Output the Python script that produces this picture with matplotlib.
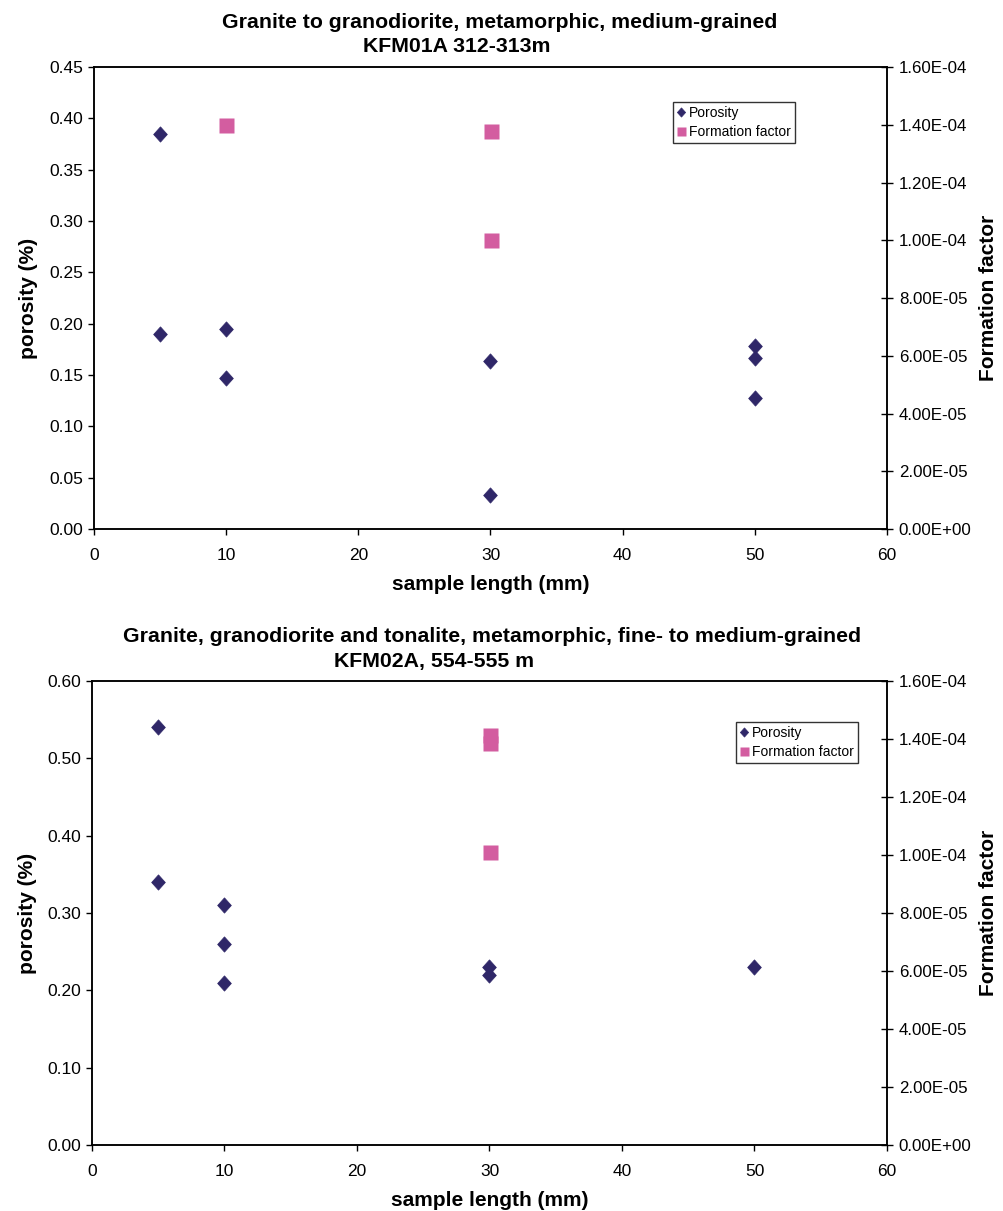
import matplotlib.pyplot as plt
from matplotlib.path import Path
from matplotlib.ticker import FuncFormatter, MultipleLocator

plt.rcParams['font.family'] = ['Liberation Sans', 'DejaVu Sans']

# KFM01A 312-313m
por1_x = [5, 5, 10, 10, 30, 30, 50, 50, 50]
por1_y = [0.385, 0.190, 0.195, 0.147, 0.164, 0.033, 0.178, 0.167, 0.128]
ff1_x = [10, 30, 30]
ff1_y = [1.40e-4, 1.38e-4, 1.00e-4]

# KFM02A, 554-555 m
por2_x = [5, 5, 10, 10, 10, 30, 30, 50]
por2_y = [0.540, 0.340, 0.310, 0.260, 0.210, 0.230, 0.220, 0.230]
ff2_x = [30, 30, 30]
ff2_y = [1.413e-4, 1.387e-4, 1.009e-4]

titles1 = ["Granite to granodiorite, metamorphic, medium-grained", "KFM01A 312-313m"]
titles2 = ["Granite, granodiorite and tonalite, metamorphic, fine- to medium-grained",
           "KFM02A, 554-555 m"]

por_col = '#2F2768'
ff_col = '#D35DA0'

# Excel style diamond, a bit taller than wide
diamond = Path([(0, 1), (0.9, 0), (0, -1), (-0.9, 0), (0, 1)],
               [Path.MOVETO, Path.LINETO, Path.LINETO, Path.LINETO, Path.CLOSEPOLY])

W, H = 1004, 1211
fig = plt.figure(figsize=(W / 100, H / 100), dpi=100)


def make_panel(rect, px, py, fx, fy, ymax, ystep, titles, title_pos, leg_xy):
    ax = fig.add_axes(rect)
    ax2 = ax.twinx()
    h1, = ax.plot(px, py, linestyle='none', marker=diamond, color=por_col, ms=11,
                  mec=por_col, mew=0.5, label='Porosity', zorder=3)
    h2, = ax2.plot(fx, fy, 's', color=ff_col, ms=10.8, mec='none',
                   label='Formation factor', zorder=3)

    ax.set_xlim(0, 60)
    ax.set_ylim(0, ymax)
    ax2.set_ylim(0, 1.6e-4)
    ax.xaxis.set_major_locator(MultipleLocator(10))
    ax.yaxis.set_major_locator(MultipleLocator(ystep))
    ax2.yaxis.set_major_locator(MultipleLocator(2e-5))
    ax.yaxis.set_major_formatter(FuncFormatter(lambda v, p: f"{v:.2f}"))
    ax2.yaxis.set_major_formatter(FuncFormatter(lambda v, p: f"{v:.2E}"))

    ax.tick_params(axis='both', direction='out', length=4.5, width=1, labelsize=12.5)
    ax.tick_params(axis='x', pad=9)
    ax.tick_params(axis='y', pad=3)
    ax2.tick_params(axis='y', direction='inout', length=9, width=1, labelsize=12.2, pad=4)
    for a in (ax, ax2):
        for s in a.spines.values():
            s.set_linewidth(1.1)

    ax.set_xlabel("sample length (mm)", fontsize=15, fontweight='bold', labelpad=9)
    ax.set_ylabel("porosity (%)", fontsize=15, fontweight='bold', labelpad=8)
    ax2.set_ylabel("Formation factor", fontsize=15, fontweight='bold', labelpad=5)

    for txt, (cx, cy) in zip(titles, title_pos):
        fig.text(cx / W, 1 - cy / H, txt, ha='center', va='center',
                 fontsize=15.3, fontweight='bold')

    leg = ax2.legend(handles=[h1, h2], loc='upper left', bbox_to_anchor=leg_xy,
                     borderaxespad=0, fontsize=10, frameon=True, fancybox=False,
                     edgecolor='black', handlelength=0.6, handletextpad=0.25,
                     borderpad=0.3, labelspacing=0.35, markerscale=0.6)
    leg.get_frame().set_linewidth(1)


make_panel([94 / W, 1 - 529 / H, 793 / W, 462 / H], por1_x, por1_y, ff1_x, ff1_y,
           0.45, 0.05, titles1, [(499.5, 22), (457, 46)], (0.73, 0.924))
make_panel([92 / W, 1 - 1145 / H, 795 / W, 464 / H], por2_x, por2_y, ff2_x, ff2_y,
           0.60, 0.10, titles2, [(492.5, 636), (434, 662)], (0.81, 0.912))

fig.savefig("out.png", dpi=100)
